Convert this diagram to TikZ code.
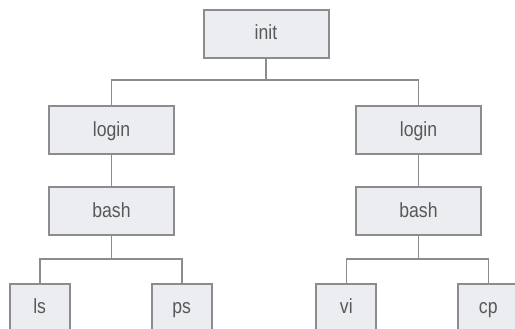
\documentclass[tikz,border=0pt]{standalone}
\usepackage{fontspec}
\setmainfont[FakeStretch=0.86]{Liberation Sans}
\definecolor{boxfill}{HTML}{ECEDF0}
\definecolor{boxdraw}{HTML}{8C8C8E}
\definecolor{txt}{HTML}{58585A}
\begin{document}
\begin{tikzpicture}[x=1pt,y=1pt,
  procbox/.style={draw=boxdraw,fill=boxfill,line width=2pt,minimum width=125pt,minimum height=48pt,inner sep=0pt,text height=15pt,text depth=3pt,text=txt,font=\fontsize{20.5}{22}\selectfont},
  leafbox/.style={procbox,minimum width=60pt},
  conn/.style={draw=boxdraw,line width=1.6pt}]
\useasboundingbox (0,0) rectangle (515,329);
\clip (0,0) rectangle (515,329);
\node[procbox] (init) at (266,295) {init};
\node[procbox] (loginL) at (111.5,198.5) {login};
\node[procbox] (bashL) at (111.5,117.5) {bash};
\node[procbox] (loginR) at (418.5,198.5) {login};
\node[procbox] (bashR) at (418.5,117.5) {bash};
\node[leafbox] (ls) at (39.7,21) {ls};
\node[leafbox] (ps) at (181.7,21) {ps};
\node[leafbox] (vi) at (346.3,21) {vi};
\node[leafbox] (cp) at (488.3,21) {cp};
\coordinate (j1) at (266,249);
\coordinate (j2) at (111.5,69.7);
\coordinate (j3) at (418.5,69.7);
\draw[conn] (init.south) -- (j1);
\draw[conn] (loginL.north) |- (j1) -| (loginR.north);
\draw[conn] (loginL.south) -- (bashL.north);
\draw[conn] (loginR.south) -- (bashR.north);
\draw[conn] (bashL.south) -- (j2);
\draw[conn] (ls.north) |- (j2) -| (ps.north);
\draw[conn] (bashR.south) -- (j3);
\draw[conn] (vi.north) |- (j3) -| (cp.north);
\end{tikzpicture}
\end{document}
